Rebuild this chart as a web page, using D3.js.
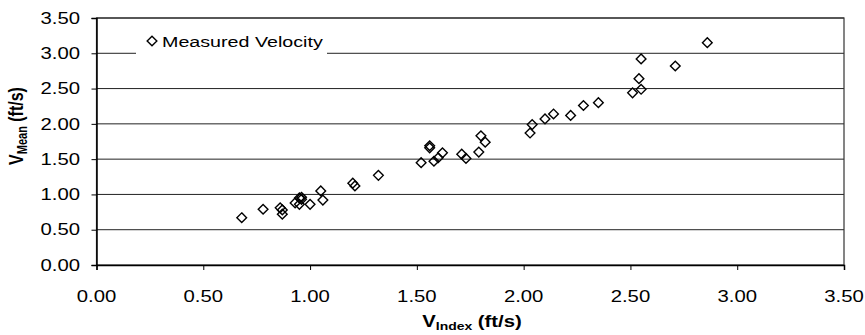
<!DOCTYPE html>
<html><head><meta charset="utf-8">
<script src="https://cdn.jsdelivr.net/npm/d3@7"></script>
<style>body{margin:0;background:#fff;} svg{display:block;font-family:Arial,"Liberation Sans",sans-serif;}</style>
</head><body>
<svg id="chart" width="865" height="335"></svg>
<script>
const vIndex = [0.68,0.78,0.86,0.87,0.87,0.93,0.95,0.95,0.96,0.96,1.00,1.05,1.06,1.20,1.21,1.32,1.52,1.56,1.56,1.58,1.60,1.62,1.71,1.73,1.79,1.80,1.82,2.03,2.04,2.10,2.14,2.22,2.28,2.35,2.51,2.55,2.54,2.55,2.71,2.86];
const vMean  = [0.67,0.79,0.81,0.78,0.72,0.88,0.86,0.95,0.93,0.96,0.86,1.05,0.92,1.16,1.12,1.27,1.45,1.69,1.66,1.47,1.52,1.59,1.57,1.51,1.60,1.83,1.74,1.87,1.99,2.07,2.14,2.12,2.26,2.30,2.44,2.49,2.64,2.92,2.82,3.15];
const xTicks = [0,0.5,1,1.5,2,2.5,3,3.5];
const yTicks = [0,0.5,1,1.5,2,2.5,3,3.5];
const seriesName = "Measured Velocity";

const SX = 1.27; // horizontal stretch of the reference image
const FONT = "Arial, 'Liberation Sans', sans-serif";
const svg = d3.select("#chart");
const L = 96.5, R = 844, T = 18, B = 265;
const x = d3.scaleLinear().domain([0,3.5]).range([L,R]);
const y = d3.scaleLinear().domain([0,3.5]).range([B,T]);
const fmt = d3.format(".2f");

// gridlines
svg.append("g").selectAll("line").data(yTicks.filter(d=>d>0)).join("line")
  .attr("x1",L).attr("x2",R).attr("y1",d=>y(d)).attr("y2",d=>y(d))
  .attr("stroke","#222").attr("stroke-width",1);
// plot border
svg.append("rect").attr("x",L).attr("y",T).attr("width",R-L).attr("height",B-T)
  .attr("fill","none").attr("stroke","#333").attr("stroke-width",1.2);

// axes (lines + ticks)
const gx = svg.append("g").attr("transform",`translate(0,${B})`)
  .call(d3.axisBottom(x).tickValues(xTicks).tickFormat("").tickSize(5));
const gy = svg.append("g").attr("transform",`translate(${L},0)`)
  .call(d3.axisLeft(y).tickValues(yTicks).tickFormat("").tickSize(5));
[gx,gy].forEach(g=>{
  g.select(".domain").attr("stroke","#000").attr("stroke-width",1.5);
  g.selectAll(".tick line").attr("stroke","#000").attr("stroke-width",1);
});

// tick labels (stretched horizontally like the reference)
svg.append("g").selectAll("g").data(xTicks).join("g")
  .attr("transform",d=>`translate(${x(d)},302) scale(${SX},1)`)
  .append("text").attr("text-anchor","middle").attr("font-size",16).attr("font-family",FONT)
  .attr("fill","#000").text(d=>fmt(d));
svg.append("g").selectAll("g").data(yTicks).join("g")
  .attr("transform",d=>`translate(80,${y(d)}) scale(${SX},1)`)
  .append("text").attr("text-anchor","end").attr("dy","0.36em").attr("font-size",16).attr("font-family",FONT)
  .attr("fill","#000").text(d=>fmt(d));

// legend
const lg = svg.append("g");
lg.append("rect").attr("x",136).attr("y",28).attr("width",191).attr("height",28).attr("fill","#fff");
const diamond = d3.symbol().type(d3.symbolDiamond2).size(60);
lg.append("path").attr("d",diamond).attr("transform","translate(152,41)")
  .attr("fill","#fff").attr("stroke","#000").attr("stroke-width",1.4);
lg.append("g").attr("transform",`translate(162,47) scale(${SX},1)`)
  .append("text").attr("font-size",15.5).attr("font-family",FONT).attr("fill","#000").text(seriesName);

// points
const pts = vIndex.map((v,i)=>({x:v,y:vMean[i]}));
svg.append("g").selectAll("path").data(pts).join("path")
  .attr("d",diamond).attr("transform",d=>`translate(${x(d.x)},${y(d.y)})`)
  .attr("fill","none").attr("stroke","#000").attr("stroke-width",1.4);

// axis titles
const xt = svg.append("g").attr("transform",`translate(472,327) scale(${SX},1)`)
  .append("text").attr("text-anchor","middle").attr("font-family",FONT)
  .attr("font-size",16).attr("font-weight","bold").attr("fill","#000");
xt.append("tspan").text("V");
xt.append("tspan").attr("font-size",11).attr("dy",3).text("Index");
xt.append("tspan").attr("dy",-3).text(" (ft/s)");

const yt = svg.append("g").attr("transform",`translate(23,126) scale(${SX},1) rotate(-90)`)
  .append("text").attr("text-anchor","middle").attr("font-family",FONT)
  .attr("font-size",16).attr("font-weight","bold").attr("fill","#000");
yt.append("tspan").text("V");
yt.append("tspan").attr("font-size",11).attr("dy",3).text("Mean");
yt.append("tspan").attr("dy",-3).text(" (ft/s)");
</script>
</body></html>
